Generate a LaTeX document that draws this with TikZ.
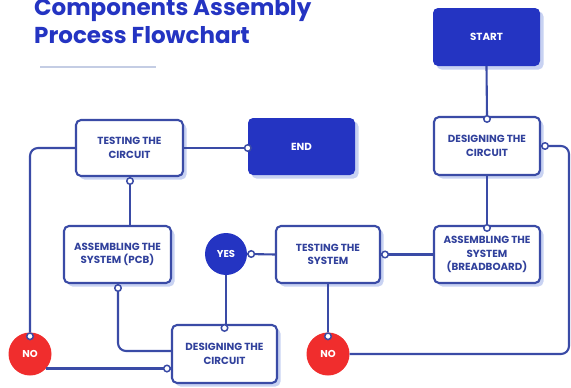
\documentclass[tikz,border=0pt]{standalone}
\usepackage{fontspec}
\setmainfont{Poppins}
\definecolor{dblue}{HTML}{2434C2}
\definecolor{lblue}{HTML}{3A4BA6}
\definecolor{txtblue}{HTML}{31419C}
\definecolor{shadowc}{HTML}{C8D2F2}
\definecolor{redc}{HTML}{F02D2D}
\definecolor{rulec}{HTML}{C4CDE4}
\tikzset{
  x=1pt,y=-1pt,
  stepbox/.style={draw=lblue,line width=2.1pt,fill=white,rounded corners=5pt,
    align=center,text=txtblue,font=\bfseries\fontsize{10.3}{13.5}\selectfont,
    preaction={fill=shadowc,transform canvas={xshift=3.5pt,yshift=-3.5pt}}},
  darkbox/.style={fill=dblue,rounded corners=5pt,align=center,text=white,
    font=\bfseries\fontsize{10.3}{13.5}\selectfont,
    preaction={fill=shadowc,transform canvas={xshift=3.5pt,yshift=-3.5pt}}},
  roundnode/.style={circle,inner sep=0pt,minimum size=43pt,text=white,
    font=\bfseries\fontsize{10}{12}\selectfont},
  conn/.style={draw=lblue,line width=2.1pt,rounded corners=8pt},
  dotc/.style={circle,draw=lblue,fill=white,line width=1.5pt,inner sep=0pt,minimum size=6.5pt}
}
\begin{document}
\begin{tikzpicture}
\useasboundingbox (0,0) rectangle (571,388);
% title
\node[anchor=base west,inner sep=0pt,align=left,text=dblue,
  font=\bfseries\fontsize{23}{27.5}\selectfont] (title) at (34,16)
  {Components Assembly};
\node[anchor=base west,inner sep=0pt,align=left,text=dblue,
  font=\bfseries\fontsize{23}{27.5}\selectfont] (title2) at (34,43)
  {Process Flowchart};
\draw[rulec,line width=2pt] (40,67) coordinate (r1) -- (156,67) coordinate (r2);
% nodes
\node[darkbox,minimum width=107pt,minimum height=58pt] (start) at (486.5,37) {START};
\node[stepbox,minimum width=106pt,minimum height=58pt] (d1) at (487,146) {DESIGNING THE\\CIRCUIT};
\node[stepbox,minimum width=106pt,minimum height=57pt] (ab) at (487,254.5) {ASSEMBLING THE\\SYSTEM\\(BREADBOARD)};
\node[stepbox,minimum width=104pt,minimum height=57pt] (ts) at (328,254.5) {TESTING THE\\SYSTEM};
\node[stepbox,minimum width=105pt,minimum height=58pt] (d2) at (224.5,354) {DESIGNING THE\\CIRCUIT};
\node[stepbox,minimum width=107pt,minimum height=57pt] (pcb) at (117.5,254.5) {ASSEMBLING THE\\SYSTEM (PCB)};
\node[stepbox,minimum width=107pt,minimum height=56pt] (tc) at (129.5,148) {TESTING THE\\CIRCUIT};
\node[darkbox,minimum width=107pt,minimum height=57pt] (end) at (301.5,146.5) {END};
\node[roundnode,fill=dblue,minimum size=42pt] (yes) at (226,254) {YES};
\node[roundnode,fill=redc] (no2) at (328,354) {NO};
\node[roundnode,fill=redc] (no1) at (30,354) {NO};
% connectors
\draw[conn] (start.south) -- (d1.north);
\draw[conn] (d1.east) -- (569,146) coordinate (c1) -- (569,354) coordinate (c2) -- (no2.east);
\draw[conn] (d1.south) -- (ab.north);
\draw[conn] (ab.west) -- (ts.east);
\draw[conn] (ts.south) -- (no2.north);
\draw[conn] (yes.east) -- (ts.west);
\draw[conn] (yes.south) -- (yes.south |- d2.north);
\draw[conn] (pcb.south -| 118,0) coordinate (p1) -- (118,351) coordinate (p2) -- (d2.west |- 0,351);
\draw[conn] (no1.-42) -- (no1.-42 -| d2.west) coordinate (q1);
\draw[conn] (no1.north) -- (30,148) coordinate (c3) -- (tc.west);
\draw[conn] (tc.east) -- (tc.east -| end.west) coordinate (e1);
\draw[conn] (tc.south -| 130,0) coordinate (t1) -- (pcb.north -| 130,0);
% dots
\node[dotc] at ([yshift=-3pt]d1.north) {};
\node[dotc] at ([xshift=4pt]d1.east) {};
\node[dotc] at ([yshift=-3pt]ab.north) {};
\node[dotc] at ([xshift=4pt]ts.east) {};
\node[dotc] at ([yshift=-4pt]no2.north) {};
\node[dotc] at ([xshift=4pt]yes.east) {};
\node[dotc] at ([yshift=-4pt]d2.north) {};
\node[dotc] at ([yshift=-4pt]p1) {};
\node[dotc] at ([xshift=-4pt]q1) {};
\node[dotc] at ([yshift=-4pt]no1.north) {};
\node[dotc] at (e1) {};
\node[dotc] at ([yshift=-4pt]t1) {};
\end{tikzpicture}
\end{document}
